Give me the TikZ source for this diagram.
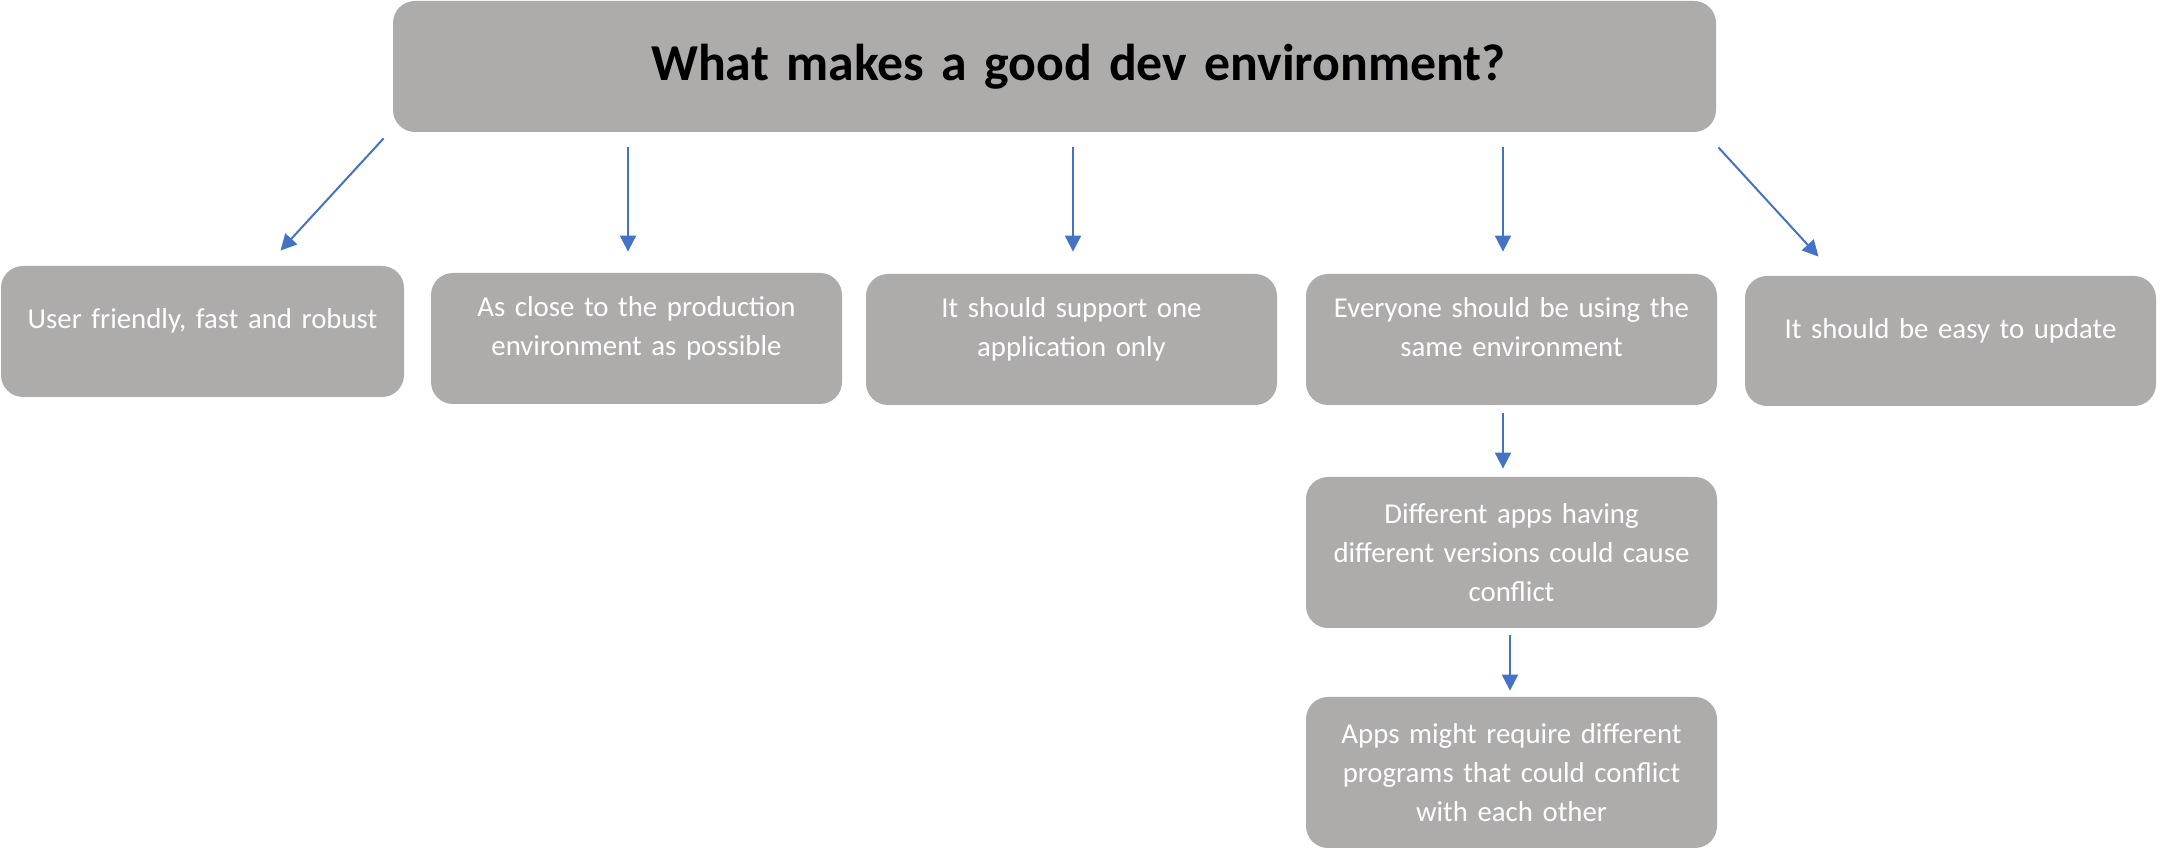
\documentclass[tikz,border=0pt]{standalone}
\usepackage{fontspec}
\setmainfont{Carlito}
\usepackage{tikz}
\usetikzlibrary{arrows.meta,calc}
\definecolor{DevGrey}{HTML}{AEABAB}
\definecolor{DevBlue}{HTML}{4472C4}

\begin{document}
\begin{tikzpicture}[x=.5pt,y=-.5pt,
  card/.style={fill=DevGrey,rounded corners=11pt,inner sep=0pt,minimum width=205.5pt,minimum height=65.5pt,text width=196pt,align=center,text=white,font=\fontsize{14.4}{19.5}\selectfont},
  lift/.style={execute at end node={\rule[-#1]{0pt}{0pt}}},
  link/.style={-{Triangle[length=8pt,width=8pt]},line width=1pt,DevBlue}]
\useasboundingbox (0,0) rectangle (2160,849);
\node[card,minimum width=661.5pt,text width=640pt,text=black,font=\fontsize{25.9}{32}\selectfont\bfseries] (title) at (1054.5,66.5) {\hspace*{24pt}What makes a good dev environment?};
\node[card,lift=12.5pt,minimum width=201.5pt,text width=192pt] (b1) at (202.5,331.5) {User friendly, fast and robust};
\node[card,lift=12.5pt] (b2) at (636.5,338.5) {As close to the production\\environment as possible};
\node[card,lift=12.5pt] (b3) at (1071.5,339.5) {It should support one\\application only};
\node[card,lift=12.5pt] (b4) at (1511.5,339.5) {Everyone should be using the\\same environment};
\node[card,lift=12.5pt,minimum height=65pt] (b5) at (1950.5,341) {It should be easy to update};
\node[card,minimum height=75.5pt] (b6) at (1511.5,552.5) {Different apps having\\different versions could cause\\conflict};
\node[card,minimum height=75.5pt] (b7) at (1511.5,772.5) {Apps might require different\\programs that could conflict\\with each other};
\draw[link] ($(title.south west)+(-9,6)$) -- ($(b1.north)+(78,-15)$);
\draw[link] ($(title.south -| b2.north)+(-8.5,15)$) -- ($(b2.north)+(-8.5,-21)$);
\draw[link] ($(title.south -| b3.north)+(1.5,15)$) -- ($(b3.north)+(1.5,-22)$);
\draw[link] ($(title.south -| b4.north)+(-8.5,15)$) -- ($(b4.north)+(-8.5,-22)$);
\draw[link] ($(title.south east)+(2,15)$) -- ($(b5.north)+(-132,-19)$);
\draw[link] ($(b4.south)+(-8.5,8)$) -- ($(b6.north)+(-8.5,-8)$);
\draw[link] ($(b6.south)+(-1.5,7)$) -- ($(b7.north)+(-1.5,-6)$);
\end{tikzpicture}
\end{document}
